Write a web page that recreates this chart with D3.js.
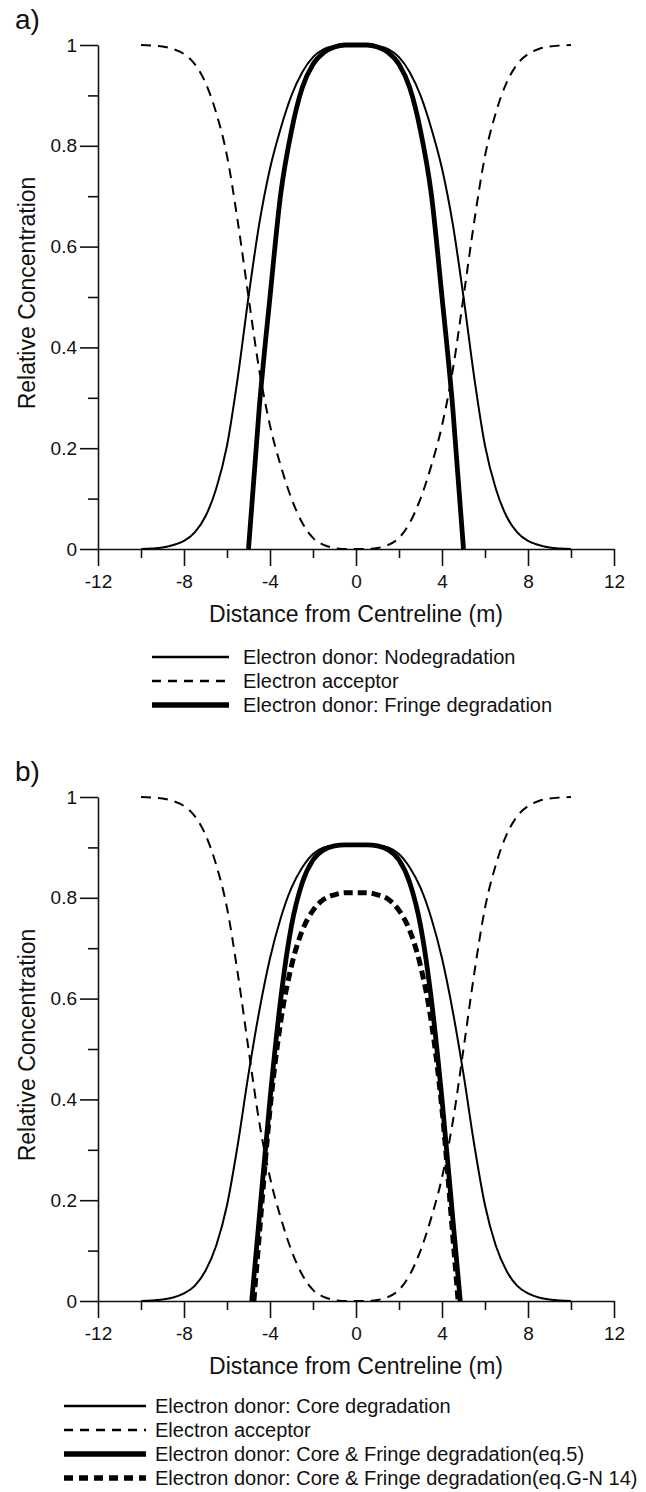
<!DOCTYPE html>
<html>
<head>
<meta charset="utf-8">
<script src="https://cdn.jsdelivr.net/npm/d3@7"></script>
<style>
  body { margin: 0; background: #fff; }
  svg { display: block; font-family: "Liberation Sans", Arial, Helvetica, sans-serif; }
</style>
</head>
<body>
<svg id="chart" width="646" height="1492"></svg>
<script>
// ---- data (distance from centreline in m, relative concentration) ----
const xMajor = [-12, -8, -4, 0, 4, 8, 12];
const xTickLabels = ["-12", "-8", "-4", "0", "4", "8", "12"];
const xMinor = [-10, -6, -2, 2, 6, 10];
const yMajor = [0, 0.2, 0.4, 0.6, 0.8, 1];
const yTickLabels = ["0", "0.2", "0.4", "0.6", "0.8", "1"];
const yMinor = [0.1, 0.3, 0.5, 0.7, 0.9];

const distFull = [-10,-9.5,-9,-8.5,-8,-7.5,-7,-6.5,-6,-5.5,-5,-4.5,-4,-3.5,-3,-2.5,-2,-1.5,-1,-0.5,0,
                  0.5,1,1.5,2,2.5,3,3.5,4,4.5,5,5.5,6,6.5,7,7.5,8,8.5,9,9.5,10];
const donorNoDeg = [0,0.001,0.003,0.008,0.016,0.033,0.065,0.12,0.205,0.34,0.5,0.645,0.755,0.835,0.9,0.946,0.976,0.992,0.998,1,1,
                    1,0.998,0.992,0.976,0.946,0.9,0.835,0.755,0.645,0.5,0.34,0.205,0.12,0.065,0.033,0.016,0.008,0.003,0.001,0];
const acceptor = [1,0.999,0.997,0.992,0.982,0.962,0.925,0.865,0.78,0.65,0.5,0.355,0.245,0.165,0.1,0.052,0.022,0.008,0.002,0,0,
                  0,0.002,0.008,0.022,0.052,0.1,0.165,0.245,0.355,0.5,0.65,0.78,0.865,0.925,0.962,0.982,0.992,0.997,0.999,1];
const coreDeg = [0,0.001,0.003,0.007,0.015,0.03,0.06,0.11,0.19,0.31,0.45,0.575,0.68,0.76,0.82,0.86,0.887,0.9,0.904,0.905,0.905,
                 0.905,0.904,0.9,0.887,0.86,0.82,0.76,0.68,0.575,0.45,0.31,0.19,0.11,0.06,0.03,0.015,0.007,0.003,0.001,0];

const distFringe = [-5,-4.5,-4,-3.5,-3,-2.5,-2,-1.5,-1,-0.5,0,0.5,1,1.5,2,2.5,3,3.5,4,4.5,5];
const donorFringe = [0,0.28,0.5,0.705,0.83,0.915,0.962,0.985,0.996,1,1,1,0.996,0.985,0.962,0.915,0.83,0.705,0.5,0.28,0];

const distEq5 = [-4.85,-4.5,-4,-3.5,-3,-2.5,-2,-1.5,-1,-0.5,0,0.5,1,1.5,2,2.5,3,3.5,4,4.5,4.85];
const coreFringeEq5 = [0,0.165,0.4,0.6,0.745,0.83,0.875,0.895,0.903,0.905,0.905,0.905,0.903,0.895,0.875,0.83,0.745,0.6,0.4,0.165,0];

const distGN = [-4.75,-4.5,-4,-3.5,-3,-2.5,-2,-1.5,-1,-0.5,0,0.5,1,1.5,2,2.5,3,3.5,4,4.5,4.75];
const coreFringeGN = [0,0.13,0.38,0.555,0.665,0.735,0.775,0.797,0.806,0.81,0.81,0.81,0.806,0.797,0.775,0.735,0.665,0.555,0.38,0.13,0];

const legendA = ["Electron donor: Nodegradation", "Electron acceptor", "Electron donor: Fringe degradation"];
const legendB = ["Electron donor: Core degradation", "Electron acceptor",
                 "Electron donor: Core & Fringe degradation(eq.5)",
                 "Electron donor: Core & Fringe degradation(eq.G-N 14)"];

// line styles
const thin = { w: 2, dash: null, key: "9,7" };
const dashed = { w: 2, dash: "10,7", key: "9,7" };
const thick = { w: 4.8, dash: null };
const thickDashed = { w: 5, dash: "9,5", key: "9,6" };

const svg = d3.select("#chart");

function zip(xs, ys) { return xs.map((d, i) => [d, ys[i]]); }

function drawPanel(cfg) {
  const g = svg.append("g").attr("transform", `translate(0,${cfg.top})`);
  const x = d3.scaleLinear().domain([-12, 12]).range([98, 614]);
  const y = d3.scaleLinear().domain([0, 1]).range([504, 0]);

  // minor ticks
  g.append("g").attr("transform", `translate(0,${y(0)})`)
    .call(d3.axisBottom(x).tickValues(xMinor).tickSize(9).tickFormat(""))
    .call(a => a.select(".domain").remove());
  g.append("g").attr("transform", `translate(${x(-12)},0)`)
    .call(d3.axisLeft(y).tickValues(yMinor).tickSize(10).tickFormat(""))
    .call(a => a.select(".domain").remove());

  // major axes
  const xa = g.append("g").attr("transform", `translate(0,${y(0)})`)
    .call(d3.axisBottom(x).tickValues(xMajor).tickFormat((d, i) => xTickLabels[i])
      .tickSize(17).tickSizeOuter(0));
  xa.selectAll("text").attr("y", 39).attr("dy", null);
  const ya = g.append("g").attr("transform", `translate(${x(-12)},0)`)
    .call(d3.axisLeft(y).tickValues(yMajor).tickFormat((d, i) => yTickLabels[i])
      .tickSize(18).tickSizeOuter(0).tickPadding(3));

  g.selectAll(".tick line, .domain").attr("stroke", "#111").attr("stroke-width", 1.6);
  [xa, ya].forEach(a => a.attr("font-size", 19).attr("font-family", null));
  g.selectAll(".tick text").attr("fill", "#111");

  // curves
  const line = d3.line().x(d => x(d[0])).y(d => y(d[1])).curve(d3.curveMonotoneX);
  cfg.series.forEach(s => {
    g.append("path")
      .attr("d", line(zip(s.xs, s.ys)))
      .attr("fill", "none")
      .attr("stroke", "#000")
      .attr("stroke-width", s.style.w)
      .attr("stroke-dasharray", s.style.dash)
      .attr("stroke-linejoin", "round");
  });

  // panel letter and axis titles
  g.append("text").attr("x", 15).attr("y", -16).attr("font-size", 28).attr("fill", "#111").text(cfg.letter);
  g.append("text")
    .attr("transform", `translate(35,${y(0.5) - 4}) rotate(-90)`)
    .attr("text-anchor", "middle").attr("font-size", 23).attr("fill", "#111")
    .text("Relative Concentration");
  g.append("text")
    .attr("x", (x(-12) + x(12)) / 2).attr("y", y(0) + 73)
    .attr("text-anchor", "middle").attr("font-size", 23).attr("fill", "#111")
    .text("Distance from Centreline (m)");

  // legend
  const lg = g.append("g").attr("transform", `translate(0,${y(0) + cfg.legendOffset})`);
  cfg.series.forEach((s, i) => {
    const yy = i * cfg.legendStep;
    lg.append("line")
      .attr("x1", cfg.legendX0).attr("x2", cfg.legendX1).attr("y1", yy).attr("y2", yy)
      .attr("stroke", "#000").attr("stroke-width", s.style.w + 0.5)
      .attr("stroke-dasharray", s.style.dash ? s.style.key : null);
    lg.append("text")
      .attr("x", cfg.legendText).attr("y", yy + 7)
      .attr("font-size", 20).attr("fill", "#111")
      .text(cfg.labels[i]);
  });
}

drawPanel({
  top: 45, letter: "a)",
  series: [
    { xs: distFull, ys: donorNoDeg, style: thin },
    { xs: distFull, ys: acceptor, style: dashed },
    { xs: distFringe, ys: donorFringe, style: thick }
  ],
  labels: legendA,
  legendOffset: 108, legendStep: 24, legendX0: 152, legendX1: 229, legendText: 243
});

drawPanel({
  top: 797, letter: "b)",
  series: [
    { xs: distFull, ys: coreDeg, style: thin },
    { xs: distFull, ys: acceptor, style: dashed },
    { xs: distEq5, ys: coreFringeEq5, style: thick },
    { xs: distGN, ys: coreFringeGN, style: thickDashed }
  ],
  labels: legendB,
  legendOffset: 105, legendStep: 24, legendX0: 64, legendX1: 146, legendText: 155
});
</script>
</body>
</html>
